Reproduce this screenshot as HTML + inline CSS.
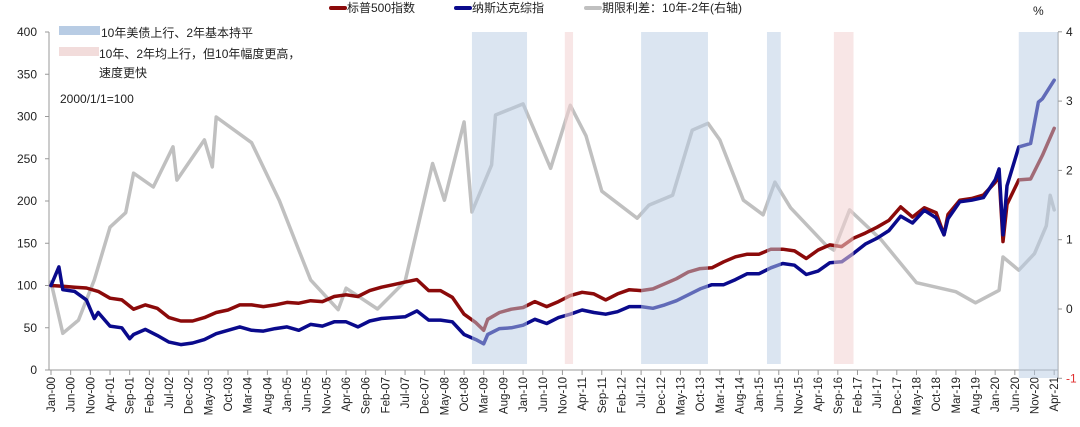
<!DOCTYPE html>
<html><head><meta charset="utf-8"><style>
body{margin:0;background:#fff;}
svg text{font-family:"Liberation Sans","Noto Sans CJK SC",sans-serif;}
</style></head><body>
<svg id="chart" width="1080" height="422" xmlns="http://www.w3.org/2000/svg">
<g id="axes"></g>
<g id="lines"></g>
<g id="bandsTop"></g>
<g>
  <line x1="331" y1="8" x2="345" y2="8" stroke="#8b0a0a" stroke-width="4" stroke-linecap="round"/>
  <text x="347" y="12" font-size="12" fill="#222">标普500指数</text>
  <line x1="456" y1="8" x2="470" y2="8" stroke="#0a0a8c" stroke-width="4" stroke-linecap="round"/>
  <text x="472" y="12" font-size="12" fill="#222">纳斯达克综指</text>
  <line x1="586" y1="8" x2="600" y2="8" stroke="#c0c0c0" stroke-width="4" stroke-linecap="round"/>
  <text x="602" y="12" font-size="12" fill="#222">期限利差：10年-2年(右轴)</text>
  <text x="1033" y="15" font-size="12" fill="#222">%</text>
  <rect x="59" y="26" width="41" height="9" fill="#b8cce4"/>
  <text x="101" y="37" font-size="12" fill="#222">10年美债上行、2年基本持平</text>
  <rect x="59" y="47" width="40" height="9" fill="#f2dcdb"/>
  <text x="99" y="58" font-size="12" fill="#222">10年、2年均上行，但10年幅度更高，</text>
  <text x="99" y="77" font-size="12" fill="#222">速度更快</text>
  <text x="60" y="103" font-size="12" fill="#222">2000/1/1=100</text>
</g>
</svg>
<script>
// month index from Jan-2000
const spM=[0,3,6,9,12,15,18,21,24,27,30,33,36,39,42,45,48,51,54,57,60,63,66,69,72,75,78,81,84,87,90,93,96,99,102,105,108,110,111,114,117,120,123,126,129,132,135,138,141,144,147,150,153,156,159,162,165,168,171,174,177,180,183,186,189,192,195,198,201,204,207,210,213,216,219,222,225,227,228,231,234,237,240,241,242,243,246,249,252,255];
const spV=[100,99,98,97,93,85,83,72,77,73,62,58,58,62,68,71,77,77,75,77,80,79,82,81,87,89,87,94,98,101,104,107,94,94,86,66,56,47,60,68,72,74,81,75,81,88,92,90,83,90,95,94,96,102,108,116,120,121,128,134,137,137,143,143,141,132,142,148,146,156,162,169,177,193,181,192,186,160,184,201,203,207,222,230,152,196,225,226,254,286];
const ndM=[0,2,3,6,9,11,12,15,18,20,21,24,27,30,33,36,39,42,45,48,51,54,57,60,63,66,69,72,75,78,81,84,87,90,93,96,99,102,105,108,110,111,114,117,120,123,126,129,132,135,138,141,144,147,150,153,156,159,162,165,168,171,174,177,180,183,186,189,192,195,198,201,204,207,210,213,216,219,222,225,227,228,231,234,237,240,241,242,243,246,249,251,252,255];
const ndV=[100,122,95,93,83,61,68,52,50,37,42,48,41,33,30,32,36,43,47,51,47,46,49,51,47,54,52,57,57,51,58,61,62,63,70,59,59,57,42,36,31,42,49,50,53,60,55,62,66,71,68,66,69,75,75,73,77,82,89,96,101,101,107,114,114,121,126,124,113,117,127,128,138,149,156,165,182,174,189,180,160,179,199,201,204,225,238,160,218,264,268,317,321,343];
const spdM=[0,3,7,11,15,19,21,26,31,32,39,41,42,51,58,63,66,73,75,83,90,97,100,105,107,112,113,120,127,132,136,140,149,152,158,163,167,170,176,181,184,188,197,199,203,211,220,230,235,241,242,246,250,253,254,255];
const spdV=[0.39,-0.35,-0.16,0.42,1.18,1.39,1.96,1.76,2.34,1.86,2.44,2.05,2.77,2.4,1.57,0.85,0.42,-0.01,0.3,0.0,0.4,2.1,1.57,2.7,1.4,2.08,2.8,2.96,2.03,2.94,2.5,1.7,1.31,1.5,1.64,2.58,2.68,2.44,1.57,1.36,1.83,1.46,0.92,0.85,1.43,1.0,0.38,0.25,0.09,0.27,0.75,0.56,0.8,1.2,1.64,1.43];
const xTickLabels=["Jan-00","Jun-00","Nov-00","Apr-01","Sep-01","Feb-02","Jul-02","Dec-02","May-03","Oct-03","Mar-04","Aug-04","Jan-05","Jun-05","Nov-05","Apr-06","Sep-06","Feb-07","Jul-07","Dec-07","May-08","Oct-08","Mar-09","Aug-09","Jan-10","Jun-10","Nov-10","Apr-11","Sep-11","Feb-12","Jul-12","Dec-12","May-13","Oct-13","Mar-14","Aug-14","Jan-15","Jun-15","Nov-15","Apr-16","Sep-16","Feb-17","Jul-17","Dec-17","May-18","Oct-18","Mar-19","Aug-19","Jan-20","Jun-20","Nov-20","Apr-21"];
const leftTicks=[0,50,100,150,200,250,300,350,400];
const rightTicks=[-1,0,1,2,3,4];
const bandStart=[107,130.6,150,182,199,246];
const bandEnd=[121,132.7,167,185.5,204,256];
const bandType=["blue","pink","blue","blue","pink","blue"];

const NS="http://www.w3.org/2000/svg";
const X=m=>51+m*3.934;
const YL=v=>370-v*0.845;
const YR=v=>309-v*69.3;
function mk(tag,attrs,parent){const e=document.createElementNS(NS,tag);for(const k in attrs)e.setAttribute(k,attrs[k]);parent.appendChild(e);return e;}
const axes=document.getElementById('axes'),lines=document.getElementById('lines'),bandsTop=document.getElementById('bandsTop');

bandStart.forEach((s,i)=>{
  const r=mk('rect',{x:X(s),y:32,width:X(bandEnd[i])-X(s),height:(i==5?378:364)-32,fill:bandType[i]=="blue"?"rgba(184,204,228,0.5)":"rgba(242,210,210,0.55)"},bandsTop);
  
  
});

let a=mk('line',{x1:49,y1:32,x2:49,y2:370,stroke:"#999","stroke-width":1},axes);


a=mk('line',{x1:49,y1:370,x2:1058,y2:370,stroke:"#999","stroke-width":1},axes);


a=mk('line',{x1:1058,y1:32,x2:1058,y2:378,stroke:"#999","stroke-width":1},axes);


leftTicks.forEach(v=>{
  mk('line',{x1:45,y1:YL(v),x2:49,y2:YL(v),stroke:"#999"},axes);
  const t=mk('text',{x:37,y:YL(v)+4,"font-size":12,"text-anchor":"end",fill:"#222"},axes);t.textContent=v;
  
  
});
rightTicks.forEach(v=>{
  mk('line',{x1:1058,y1:YR(v),x2:1062,y2:YR(v),stroke:"#999"},axes);
  const t=mk('text',{x:1066,y:YR(v)+4,"font-size":12,fill:v<0?"#e03030":"#222"},axes);t.textContent=v;
  
  
});
xTickLabels.forEach((l,i)=>{
  const x=X(i*5);
  mk('line',{x1:x,y1:370,x2:x,y2:375,stroke:"#999"},axes);
  const t=mk('text',{x:0,y:0,"font-size":11.5,"text-anchor":"end",fill:"#222",transform:`translate(${x+4},377) rotate(-90)`},axes);t.textContent=l;
  
  
});
function path(ms,vs,Y,color,name){
  const d=ms.map((m,i)=>(i?'L':'M')+X(m).toFixed(1)+','+Y(vs[i]).toFixed(1)).join('');
  const p=mk('path',{d:d,fill:"none",stroke:color,"stroke-width":3.5,"stroke-linejoin":"round","stroke-linecap":"round"},lines);
  
  
}
path(spdM,spdV,YR,"#c0c0c0","spread-line");
path(spM,spV,YL,"#8b0a0a","sp500-line");
path(ndM,ndV,YL,"#0a0a8c","nasdaq-line");
</script>
</body></html>
